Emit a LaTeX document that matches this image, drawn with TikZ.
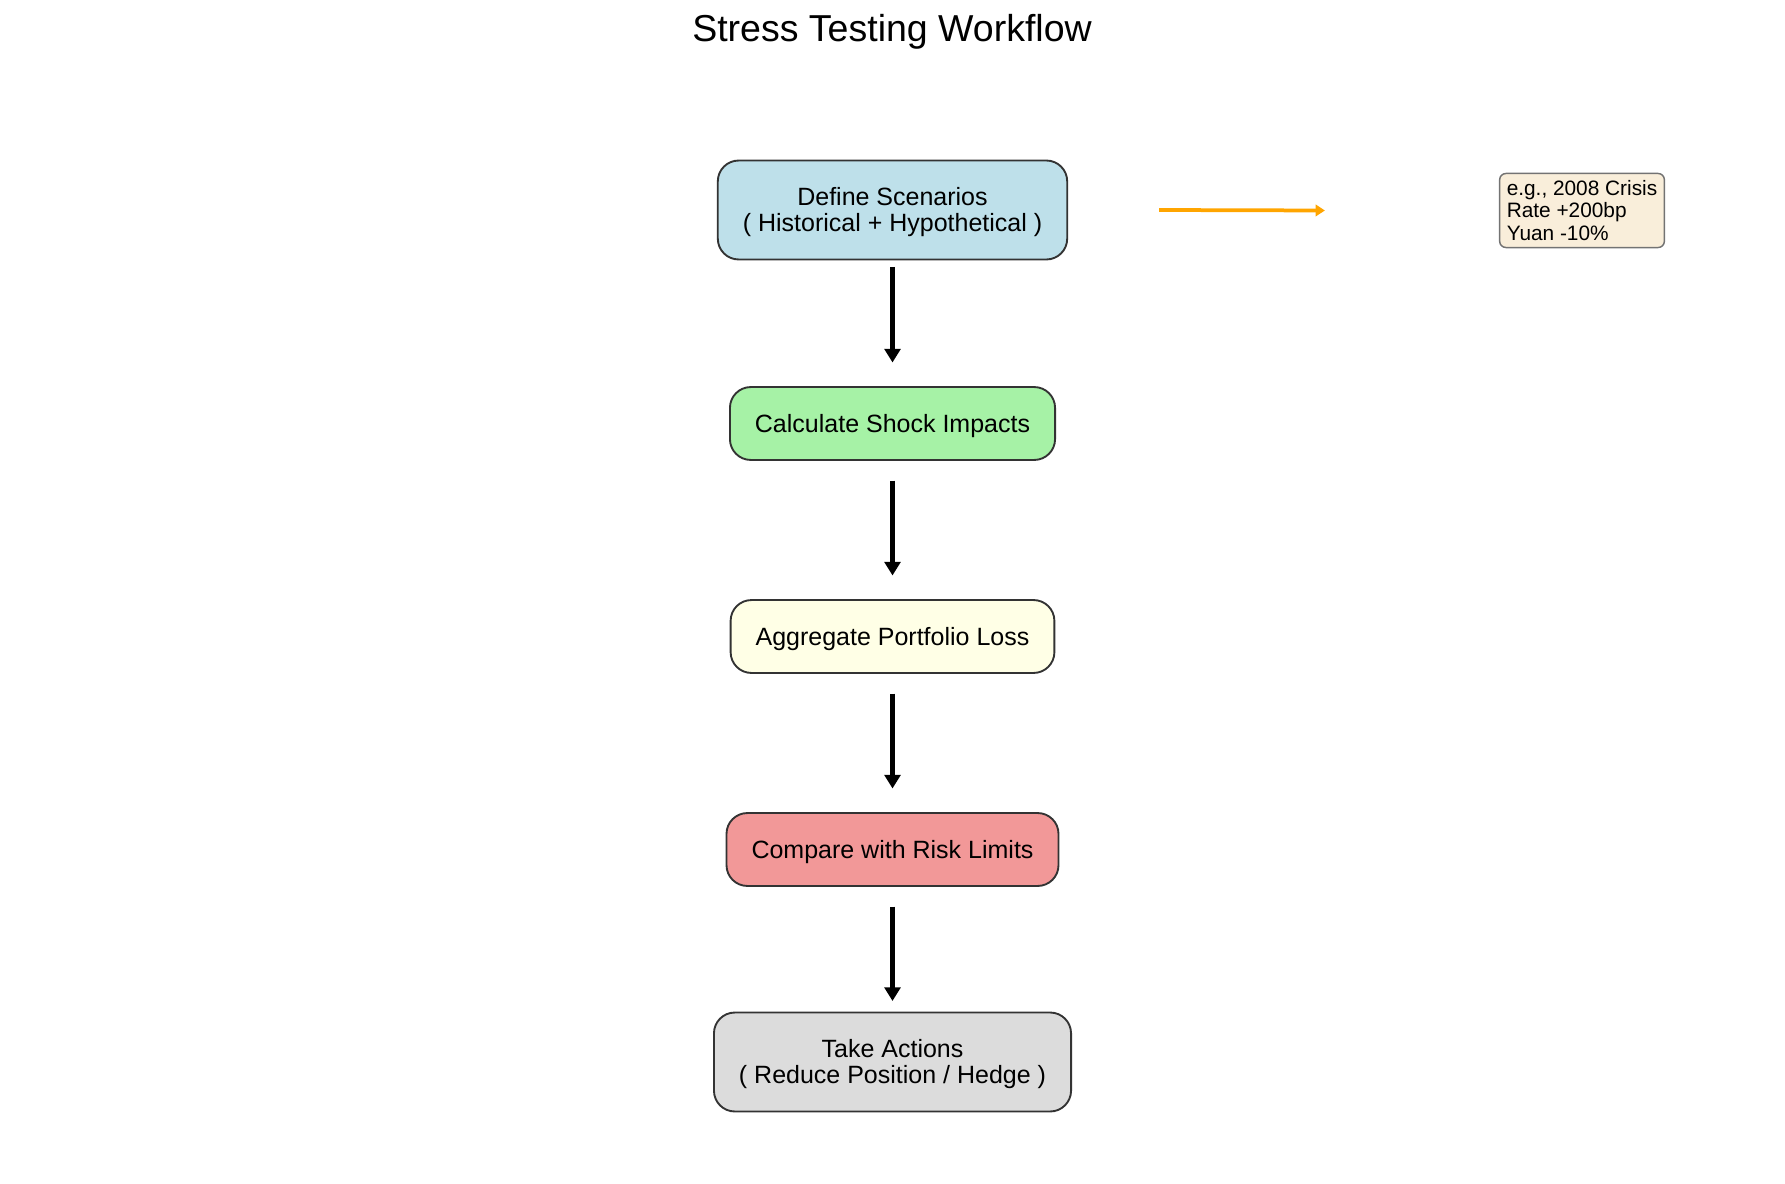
\documentclass[tikz,border=0pt]{standalone}
\usepackage{fontspec}
\setmainfont{Liberation Sans}
\usetikzlibrary{calc,arrows.meta}
\definecolor{scenblue}{HTML}{BEE0EA}
\definecolor{shockgreen}{HTML}{A6F2A6}
\definecolor{lossyellow}{HTML}{FFFFE6}
\definecolor{limitred}{HTML}{F29898}
\definecolor{actgray}{HTML}{DCDCDC}
\definecolor{notewheat}{HTML}{F9EEDA}
\definecolor{noteorange}{HTML}{FFA500}

\begin{document}
\begin{tikzpicture}[x=0.48pt,y=-0.48pt,
  stage/.style={draw=black!80, line width=0.9pt, rounded corners=10pt,
    align=center, inner xsep=12pt, minimum height=35pt,
    text depth=0.5pt, font=\fontsize{12}{12.6}\selectfont},
  flow/.style={line width=2.8pt, -{Triangle[length=6.5pt,width=7.5pt]}},
  hint/.style={draw=black!55, line width=0.7pt, rounded corners=3pt,
    fill=notewheat, align=left, inner sep=3.4pt,
    font=\fontsize{10}{10.7}\selectfont}]
  \useasboundingbox (0,0) rectangle (1785,1184);
  \node[font=\fontsize{18}{20}\selectfont] (title) at (892,32) {Stress Testing Workflow};

  % main steps
  \node[stage, fill=scenblue, minimum height=47.5pt] (define) at (892.5,210)
    {Define Scenarios\\( Historical + Hypothetical )};
  \node[stage, fill=shockgreen] (calc) at (892.5,423.5) {Calculate Shock Impacts};
  \node[stage, fill=lossyellow] (agg) at (892.5,636.5) {Aggregate Portfolio Loss};
  \node[stage, fill=limitred] (cmp) at (892.5,849.5) {Compare with Risk Limits};
  \node[stage, fill=actgray, minimum height=47.5pt] (act) at (892.5,1062)
    {Take Actions\\( Reduce Position / Hedge )};

  \foreach \a/\b in {define/calc,calc/agg,agg/cmp,cmp/act} {
    \draw[flow] ($(\a.center)+(0,57)$) -- ($(\b.center)-(0,61)$);
  }

  % scenario example
  \node[hint] (note) at (1582,210.5) {e.g., 2008 Crisis\\Rate +200bp\\Yuan -10\%};
  \draw[noteorange, line width=1.8pt, -{Triangle[length=4.5pt,width=5.5pt]}]
    ($(define.east)+(91,0)$) -- ($(note.west)-(174,0)$);
\end{tikzpicture}
\end{document}
